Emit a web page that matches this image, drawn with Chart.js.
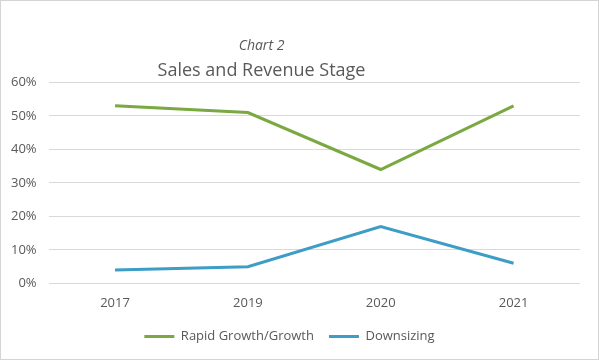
<!DOCTYPE html>
<html>
<head>
<meta charset="utf-8">
<script src="https://cdn.jsdelivr.net/npm/chart.js@4"></script>
<style>
  html, body { margin: 0; padding: 0; background: #fff; }
  #wrap { width: 597px; height: 358px; border: 1px solid #d4d4d4; position: relative; }
</style>
</head>
<body>
<div id="wrap"><canvas id="myChart"></canvas></div>
<script>
// chart data
const years = ['2017', '2019', '2020', '2021']
const rapidGrowth = [53, 51, 34, 53]
const downsizing = [4, 5, 17, 6]
const yTicks = [0, 10, 20, 30, 40, 50, 60]

const fuente = "'Open Sans', 'Liberation Sans', sans-serif"
const gris = '#595959'

// el titulo del original esta corrido un poco a la izquierda
const correrTitulo = {
    id: 'correrTitulo',
    afterLayout(chart) {
        chart.boxes.forEach((b) => {
            if (b.position === 'top') b.right -= 56
        })
    }
}

let ctx = document.getElementById('myChart').getContext('2d')
let myChart = new Chart(ctx, {
    type: 'line',
    data: {
        labels: years,
        datasets: [{
            label: 'Rapid Growth/Growth',
            data: rapidGrowth,
            borderColor: '#79A940',
            backgroundColor: '#79A940',
            borderWidth: 3,
            pointRadius: 0,
            tension: 0
        },
        {
            label: 'Downsizing',
            data: downsizing,
            borderColor: '#3D9DC6',
            backgroundColor: '#3D9DC6',
            borderWidth: 3,
            pointRadius: 0,
            tension: 0
        }]
    },
    plugins: [correrTitulo],
    options: {
        responsive: true,
        maintainAspectRatio: false,
        animation: false,
        layout: { padding: { left: -2, right: 18, top: 0, bottom: 6 } },
        plugins: {
            title: {
                display: true,
                text: 'Chart 2',
                color: gris,
                font: { family: fuente, size: 14, style: 'italic', weight: 'normal' },
                padding: { top: 37, bottom: 5 }
            },
            subtitle: {
                display: true,
                text: 'Sales and Revenue Stage',
                color: gris,
                font: { family: fuente, size: 18, weight: 'normal' },
                padding: { top: 0, bottom: 1 }
            },
            legend: {
                position: 'bottom',
                labels: {
                    color: gris,
                    font: { family: fuente, size: 13 },
                    boxWidth: 30,
                    boxHeight: 3,
                    padding: 15,
                    generateLabels: (chart) => Chart.defaults.plugins.legend.labels.generateLabels(chart).map((item) => {
                        item.lineWidth = 0
                        return item
                    })
                }
            },
            tooltip: { enabled: false }
        },
        scales: {
            x: {
                offset: true,
                grid: { display: false },
                border: { display: false },
                ticks: { color: gris, font: { family: fuente, size: 13 }, padding: 4 }
            },
            y: {
                min: 0,
                max: 60,
                afterBuildTicks: (axis) => { axis.ticks = yTicks.map((v) => ({ value: v })) },
                grid: { color: '#d9d9d9', lineWidth: 1, drawTicks: false },
                border: { display: false },
                ticks: {
                    color: gris,
                    font: { family: fuente, size: 13 },
                    padding: 12,
                    callback: (v) => v + '%'
                }
            }
        }
    }
})
</script>
</body>
</html>
